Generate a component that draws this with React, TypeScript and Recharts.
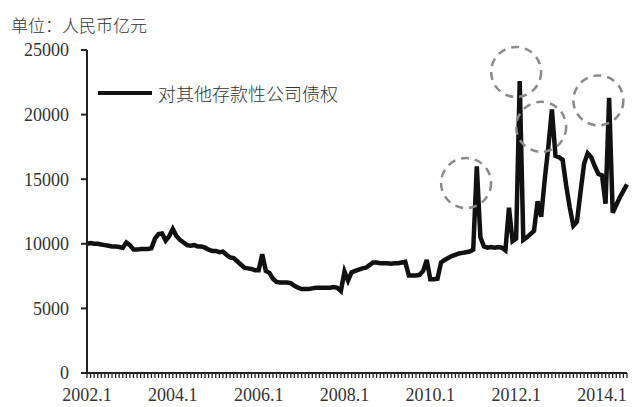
import React from 'react';
import { LineChart, Line, XAxis, YAxis, Legend, ReferenceDot } from 'recharts';

const years = [2002, 2003, 2004, 2005, 2006, 2007, 2008, 2009, 2010, 2011, 2012, 2013, 2014];

const v2002 = [10000, 10050, 10000, 10000, 9950, 9900, 9850, 9800, 9800, 9750, 9700, 10100];
const v2003 = [9900, 9550, 9550, 9600, 9600, 9600, 9650, 10400, 10750, 10800, 10250, 10600];
const v2004 = [11150, 10600, 10300, 10100, 9900, 9850, 9900, 9800, 9800, 9700, 9550, 9450];
const v2005 = [9450, 9350, 9400, 9150, 8950, 8900, 8650, 8400, 8150, 8100, 8050, 7950];
const v2006 = [7950, 9200, 7900, 7750, 7300, 7050, 7000, 7000, 7000, 6950, 6750, 6600];
const v2007 = [6500, 6500, 6500, 6550, 6600, 6600, 6600, 6600, 6600, 6650, 6600, 6350];
const v2008 = [7850, 7150, 7800, 7900, 8000, 8100, 8150, 8350, 8550, 8550, 8500, 8500];
const v2009 = [8500, 8450, 8500, 8500, 8550, 8600, 7550, 7550, 7550, 7600, 7900, 8750];
const v2010 = [7250, 7250, 7300, 8550, 8750, 8900, 9050, 9150, 9250, 9300, 9350, 9400];
const v2011 = [9550, 16000, 10500, 9800, 9700, 9750, 9700, 9750, 9700, 9500, 12800, 10200];
const v2012 = [10400, 22600, 10300, 10500, 10750, 11000, 13300, 12100, 15000, 17500, 20400, 16800];
const v2013 = [16700, 16500, 14500, 12800, 11400, 11700, 14000, 16200, 17000, 16700, 16000, 15400];
const v2014 = [15300, 13100, 21300, 12400, 13000, 13600, 14100, 14600];

const yearValues = [v2002, v2003, v2004, v2005, v2006, v2007, v2008, v2009, v2010, v2011, v2012, v2013, v2014];

const labelMonths = ['2002.1', '2004.1', '2006.1', '2008.1', '2010.1', '2012.1', '2014.1'];
const yTicks = [0, 5000, 10000, 15000, 20000, 25000];

const seriesName = '对其他存款性公司债权';
const unitTitle = '单位：人民币亿元';

const highlightMonths = ['2010.11', '2012.1', '2012.8', '2013.12'];
const highlightValues = [14700, 23300, 19050, 21100];

const data: { month: string; value: number }[] = [];
years.forEach((y, yi) => {
  yearValues[yi].forEach((v, mi) => {
    data.push({ month: `${y}.${mi + 1}`, value: v });
  });
});

const serif = '"Liberation Serif", "DejaVu Serif", serif';
const cjk = '"Noto Sans CJK SC", sans-serif';

const LegendContent = () => (
  <div style={{ display: 'flex', alignItems: 'center', whiteSpace: 'nowrap' }}>
    <svg width={56} height={10} style={{ display: 'block' }}>
      <line x1={1} y1={5} x2={55} y2={5} stroke="#111" strokeWidth={4} />
    </svg>
    <span style={{ marginLeft: 5, fontFamily: cjk, fontSize: 18, color: '#333', lineHeight: '22px', fontWeight: 300 }}>
      {seriesName}
    </span>
  </div>
);

export default function App() {
  return (
    <div style={{ position: 'absolute', left: 0, top: 0, width: 643, height: 407, background: '#fff', overflow: 'hidden' }}>
      <div
        style={{
          position: 'absolute',
          left: 11,
          top: 15,
          fontFamily: cjk,
          fontSize: 17,
          lineHeight: '20px',
          color: '#333',
          fontWeight: 300,
          whiteSpace: 'nowrap',
        }}
      >
        {unitTitle}
      </div>
      <LineChart width={643} height={407} data={data} margin={{ top: 50, right: 16, bottom: 0, left: 0 }}>
        <XAxis
          dataKey="month"
          interval={0}
          height={34}
          tickSize={5}
          tickMargin={10}
          tickFormatter={(v: string) => (labelMonths.includes(v) ? v : '')}
          axisLine={{ stroke: '#222', strokeWidth: 2 }}
          tickLine={{ stroke: '#222', strokeWidth: 1.3 }}
          tick={{ fill: '#333', fontSize: 18, fontFamily: serif }}
        />
        <YAxis
          width={87}
          domain={[0, 25000]}
          ticks={yTicks}
          tickSize={6}
          tickMargin={12}
          axisLine={{ stroke: '#222', strokeWidth: 2 }}
          tickLine={{ stroke: '#222', strokeWidth: 2 }}
          tick={{ fill: '#333', fontSize: 18, fontFamily: serif }}
        />
        <Legend
          layout="horizontal"
          verticalAlign="middle"
          align="center"
          wrapperStyle={{ left: 97, top: 82, width: 'auto' }}
          content={() => <LegendContent />}
        />
        <Line
          type="linear"
          dataKey="value"
          name={seriesName}
          stroke="#111"
          strokeWidth={4.5}
          dot={false}
          isAnimationActive={false}
        />
        {highlightMonths.map((m, i) => (
          <ReferenceDot
            key={m}
            x={m}
            y={highlightValues[i]}
            r={25}
            fill="none"
            stroke="#8a8a8a"
            strokeWidth={2.5}
            strokeDasharray="8 6"
            ifOverflow="visible"
          />
        ))}
      </LineChart>
    </div>
  );
}
